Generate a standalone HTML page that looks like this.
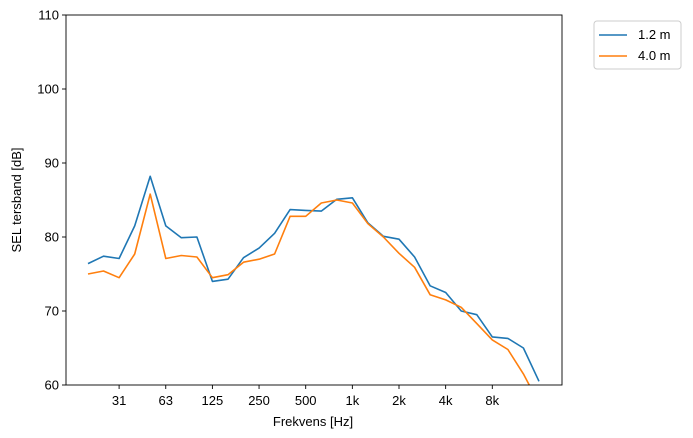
<!DOCTYPE html>
<html><head><meta charset="utf-8"><style>body{margin:0;background:#fff}svg{display:block}text{font-family:"Liberation Sans","DejaVu Sans",sans-serif;font-size:13px;fill:#000}</style></head>
<body>
<svg width="693" height="438" xmlns="http://www.w3.org/2000/svg">
<defs><clipPath id="c"><rect x="66" y="15" width="496" height="370"/></clipPath></defs>
<rect width="693" height="438" fill="#fff"/>
<g id="plot" clip-path="url(#c)" fill="none" stroke-width="1.6" stroke-linejoin="round"></g>
<rect x="66" y="15" width="496" height="370" fill="none" stroke="#000" stroke-width="0.9"/>
<g stroke="#000" stroke-width="0.9">
<line x1="62" y1="385" x2="66" y2="385"/><line x1="62" y1="311" x2="66" y2="311"/><line x1="62" y1="237" x2="66" y2="237"/><line x1="62" y1="163" x2="66" y2="163"/><line x1="62" y1="89" x2="66" y2="89"/><line x1="62" y1="15" x2="66" y2="15"/>
<line x1="119.1" y1="385" x2="119.1" y2="389"/><line x1="165.75" y1="385" x2="165.75" y2="389"/><line x1="212.4" y1="385" x2="212.4" y2="389"/><line x1="259.05" y1="385" x2="259.05" y2="389"/><line x1="305.7" y1="385" x2="305.7" y2="389"/><line x1="352.35" y1="385" x2="352.35" y2="389"/><line x1="399" y1="385" x2="399" y2="389"/><line x1="445.65" y1="385" x2="445.65" y2="389"/><line x1="492.3" y1="385" x2="492.3" y2="389"/>
</g>
<g text-anchor="end">
<text x="59" y="389.5">60</text><text x="59" y="315.5">70</text><text x="59" y="241.5">80</text><text x="59" y="167.5">90</text><text x="59" y="93.5">100</text><text x="59" y="19.5">110</text>
</g>
<g text-anchor="middle">
<text x="119.1" y="405">31</text><text x="165.75" y="405">63</text><text x="212.4" y="405">125</text><text x="259.05" y="405">250</text><text x="305.7" y="405">500</text><text x="352.35" y="405">1k</text><text x="399" y="405">2k</text><text x="445.65" y="405">4k</text><text x="492.3" y="405">8k</text>
</g>
<text x="313" y="426" text-anchor="middle">Frekvens [Hz]</text>
<text transform="translate(21,200) rotate(-90)" text-anchor="middle">SEL tersband [dB]</text>
<rect x="594" y="21" width="87" height="48" rx="3" fill="#fff" stroke="#ccc"/>
<line x1="599" y1="35" x2="627" y2="35" stroke="#1f77b4" stroke-width="1.6"/>
<text x="638" y="39">1.2 m</text>
<line x1="599" y1="56" x2="627" y2="56" stroke="#ff7f0e" stroke-width="1.6"/>
<text x="638" y="60">4.0 m</text>
<script>
var b=[76.4,77.4,77.1,81.5,88.2,81.5,79.9,80.0,74.0,74.3,77.2,78.5,80.5,83.7,83.6,83.5,85.1,85.3,81.9,80.1,79.7,77.3,73.4,72.5,70.0,69.5,66.5,66.3,65.0,60.5];
var o=[75.0,75.4,74.5,77.7,85.8,77.1,77.5,77.3,74.5,74.9,76.6,77.0,77.7,82.8,82.8,84.6,85.0,84.6,81.8,80.0,77.8,75.9,72.2,71.5,70.5,68.3,66.1,64.8,61.5,57.5];
function X(i){return 88+i*15.55}function Y(v){return 385-(v-60)*7.4}
function pts(a){return a.map(function(v,i){return X(i).toFixed(1)+","+Y(v).toFixed(1)}).join(" ")}
var ns="http://www.w3.org/2000/svg",p=document.getElementById("plot");
[[b,"#1f77b4"],[o,"#ff7f0e"]].forEach(function(s){var l=document.createElementNS(ns,"polyline");l.setAttribute("points",pts(s[0]));l.setAttribute("stroke",s[1]);p.appendChild(l)});
</script>
</svg>
</body></html>
